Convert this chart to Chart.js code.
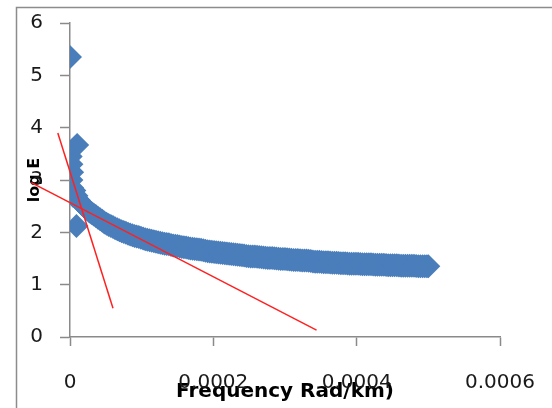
<!DOCTYPE html>
<html>
<head>
<meta charset="utf-8">
<script src="https://cdn.jsdelivr.net/npm/chart.js@4.4.1/dist/chart.umd.min.js"></script>
<style>
  html, body { margin: 0; padding: 0; background: #fff; }
</style>
</head>
<body>
<canvas id="myChart" width="552" height="408"></canvas>
<script>
// Frequency (rad/km) against log E
const freq = [
  0, 1e-6, 2e-6, 3e-6, 2e-6, 3e-6, 4e-6, 10e-6, 9e-6,
  6e-6, 9e-6, 12e-6, 15e-6, 18e-6, 21e-6, 24e-6, 27e-6, 30e-6, 33e-6,
  36e-6, 39e-6, 42e-6, 45e-6, 48e-6, 51e-6, 54e-6, 57e-6, 60e-6, 63e-6,
  66e-6, 69e-6, 72e-6, 75e-6, 78e-6, 81e-6, 84e-6, 87e-6, 90e-6, 93e-6,
  96e-6, 99e-6, 102e-6, 105e-6, 108e-6, 111e-6, 114e-6, 117e-6, 120e-6, 123e-6,
  126e-6, 129e-6, 132e-6, 135e-6, 138e-6, 141e-6, 144e-6, 147e-6, 150e-6, 153e-6,
  156e-6, 159e-6, 162e-6, 165e-6, 168e-6, 171e-6, 174e-6, 177e-6, 180e-6, 183e-6,
  186e-6, 189e-6, 192e-6, 195e-6, 198e-6, 201e-6, 204e-6, 207e-6, 210e-6, 213e-6,
  216e-6, 219e-6, 222e-6, 225e-6, 228e-6, 231e-6, 234e-6, 237e-6, 240e-6, 243e-6,
  246e-6, 249e-6, 252e-6, 255e-6, 258e-6, 261e-6, 264e-6, 267e-6, 270e-6, 273e-6,
  276e-6, 279e-6, 282e-6, 285e-6, 288e-6, 291e-6, 294e-6, 297e-6, 300e-6, 303e-6,
  306e-6, 309e-6, 312e-6, 315e-6, 318e-6, 321e-6, 324e-6, 327e-6, 330e-6, 333e-6,
  336e-6, 339e-6, 342e-6, 345e-6, 348e-6, 351e-6, 354e-6, 357e-6, 360e-6, 363e-6,
  366e-6, 369e-6, 372e-6, 375e-6, 378e-6, 381e-6, 384e-6, 387e-6, 390e-6, 393e-6,
  396e-6, 399e-6, 402e-6, 405e-6, 408e-6, 411e-6, 414e-6, 417e-6, 420e-6, 423e-6,
  426e-6, 429e-6, 432e-6, 435e-6, 438e-6, 441e-6, 444e-6, 447e-6, 450e-6, 453e-6,
  456e-6, 459e-6, 462e-6, 465e-6, 468e-6, 471e-6, 474e-6, 477e-6, 480e-6, 483e-6,
  486e-6, 489e-6, 492e-6, 495e-6, 498e-6, 500e-6
];
const logE = [
  5.35, 3.45, 3.30, 3.15, 3.00, 2.85, 2.70, 3.67, 2.12,
  2.80, 2.70, 2.62, 2.57, 2.52, 2.48, 2.44, 2.40, 2.37, 2.34,
  2.31, 2.28, 2.25, 2.22, 2.19, 2.165, 2.14, 2.12, 2.10, 2.08,
  2.06, 2.04, 2.02, 2.005, 1.99, 1.975, 1.96, 1.945, 1.93, 1.92,
  1.91, 1.895, 1.88, 1.87, 1.86, 1.85, 1.84, 1.83, 1.82, 1.81,
  1.80, 1.79, 1.78, 1.775, 1.77, 1.76, 1.75, 1.745, 1.74, 1.73,
  1.72, 1.715, 1.71, 1.70, 1.69, 1.685, 1.68, 1.675, 1.67, 1.665,
  1.66, 1.65, 1.64, 1.635, 1.63, 1.625, 1.62, 1.615, 1.61, 1.605,
  1.60, 1.595, 1.59, 1.585, 1.58, 1.575, 1.57, 1.565, 1.56, 1.555,
  1.55, 1.545, 1.54, 1.54, 1.54, 1.535, 1.53, 1.525, 1.52, 1.515,
  1.51, 1.51, 1.51, 1.505, 1.50, 1.495, 1.49, 1.49, 1.49, 1.485,
  1.48, 1.475, 1.47, 1.47, 1.47, 1.465, 1.46, 1.46, 1.46, 1.455,
  1.45, 1.445, 1.44, 1.44, 1.44, 1.435, 1.43, 1.43, 1.43, 1.425,
  1.42, 1.42, 1.42, 1.415, 1.41, 1.41, 1.41, 1.405, 1.40, 1.40,
  1.40, 1.40, 1.40, 1.395, 1.39, 1.39, 1.39, 1.39, 1.39, 1.385,
  1.38, 1.38, 1.38, 1.38, 1.38, 1.375, 1.37, 1.37, 1.37, 1.37,
  1.37, 1.365, 1.36, 1.36, 1.36, 1.36, 1.36, 1.36, 1.36, 1.355,
  1.35, 1.35, 1.35, 1.35, 1.35, 1.35
];

// two straight fits, end points only
const steepX = [-0.000017, 0.00006];
const steepY = [3.9, 0.55];
const flatX = [-0.000054, 0.000344];
const flatY = [2.95, 0.13];

const xTicks = [0, 0.0002, 0.0004, 0.0006];
const xTickLabels = ['0', '0.0002', '0.0004', '0.0006'];
const yTicks = [0, 1, 2, 3, 4, 5, 6];

const toPoints = (xs, ys) => xs.map((x, i) => ({ x: x, y: ys[i] }));

const axisGrey = '#8a8a8a';

// outer frame round the plot
const frame = {
  id: 'frame',
  beforeDraw(chart) {
    const ctx = chart.ctx;
    ctx.save();
    ctx.strokeStyle = '#8c8c8c';
    ctx.lineWidth = 1.5;
    ctx.strokeRect(16.5, 7.5, 600, 460);
    ctx.restore();
  }
};

const ctx = document.getElementById('myChart').getContext('2d');
const myChart = new Chart(ctx, {
  type: 'scatter',
  data: {
    datasets: [
      {
        data: toPoints(steepX, steepY),
        showLine: true,
        borderColor: '#ff2020',
        borderWidth: 1.5,
        pointRadius: 0,
        clip: false
      },
      {
        data: toPoints(flatX, flatY),
        showLine: true,
        borderColor: '#ff2020',
        borderWidth: 1.5,
        pointRadius: 0,
        clip: false
      },
      {
        data: toPoints(freq, logE),
        pointStyle: 'rectRot',
        pointRadius: 12,
        pointBorderWidth: 0,
        backgroundColor: '#4a7ebb',
        borderColor: '#4a7ebb'
      }
    ]
  },
  options: {
    responsive: false,
    animation: false,
    events: [],
    layout: {
      padding: { top: 23, right: 52, bottom: 0, left: 0 }
    },
    scales: {
      x: {
        type: 'linear',
        min: 0,
        max: 0.0006,
        afterBuildTicks: (scale) => {
          scale.ticks = xTicks.map(v => ({ value: v }));
        },
        afterFit: (scale) => {
          scale.height = 71;
          scale.paddingLeft = 0;
          scale.paddingRight = 0;
        },
        grid: {
          drawOnChartArea: false,
          drawTicks: true,
          tickLength: 9,
          tickColor: axisGrey,
          tickWidth: 1.5
        },
        border: { display: true, color: axisGrey, width: 1.5 },
        ticks: {
          padding: 25,
          maxRotation: 0,
          color: '#1a1a1a',
          font: { family: 'DejaVu Sans', size: 20 },
          callback: (value, index) => xTickLabels[index]
        },
        title: {
          display: true,
          text: 'Frequency Rad/km)',
          color: '#000',
          padding: { top: 0, bottom: 4 },
          font: { family: 'DejaVu Sans', size: 20, weight: 'bold' }
        }
      },
      y: {
        type: 'linear',
        min: 0,
        max: 6,
        afterBuildTicks: (scale) => {
          scale.ticks = yTicks.map(v => ({ value: v }));
        },
        afterFit: (scale) => {
          scale.width = 70;
          scale.paddingTop = 0;
          scale.paddingBottom = 0;
        },
        grid: {
          drawOnChartArea: false,
          drawTicks: true,
          tickLength: 10,
          tickColor: axisGrey,
          tickWidth: 1.5
        },
        border: { display: true, color: axisGrey, width: 1.5 },
        ticks: {
          padding: 17,
          color: '#1a1a1a',
          font: { family: 'DejaVu Sans', size: 20 }
        },
        title: {
          display: true,
          text: 'log E',
          color: '#000',
          padding: { top: 25, bottom: 0 },
          font: { family: 'DejaVu Sans', size: 16, weight: 'bold' }
        }
      }
    },
    plugins: {
      legend: { display: false },
      tooltip: { enabled: false }
    }
  },
  plugins: [frame]
});
</script>
</body>
</html>
